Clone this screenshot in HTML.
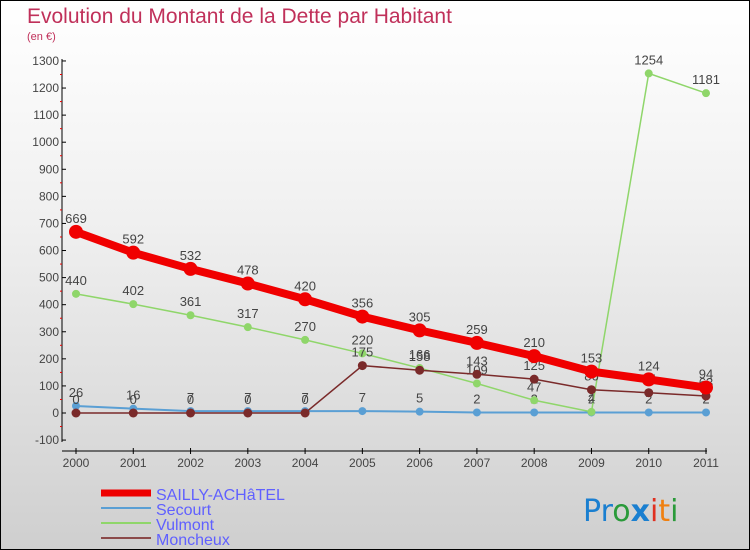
<!DOCTYPE html>
<html><head><meta charset="utf-8"><style>
body{margin:0}
#c{width:748px;height:548px;border:1px solid #000;background:linear-gradient(#fff,#f0f0f0 40%,#cfcfcf);position:relative;font-family:"Liberation Sans",sans-serif;overflow:hidden}
</style></head><body>
<div id="c">
<svg id="s" width="748" height="548">
<text x="26" y="22" font-size="21" fill="#c0305a">Evolution du Montant de la Dette par Habitant</text>
<text x="26" y="39" font-size="11" fill="#c0305a">(en €)</text>
<g id="axes"></g><g id="series"></g>
<g>
<line x1="100" y1="492" x2="150" y2="492" stroke="#e00" stroke-width="7"/>
<text x="155" y="499" font-size="16" fill="#6060ff">SAILLY-ACHâTEL</text>
<line x1="100" y1="507" x2="150" y2="507" stroke="#5a9fd4" stroke-width="2"/>
<text x="155" y="514" font-size="16" fill="#6060ff">Secourt</text>
<line x1="100" y1="522" x2="150" y2="522" stroke="#8fd66a" stroke-width="2"/>
<text x="155" y="529" font-size="16" fill="#6060ff">Vulmont</text>
<line x1="100" y1="537" x2="150" y2="537" stroke="#8b4a4a" stroke-width="2"/>
<text x="155" y="544" font-size="16" fill="#6060ff">Moncheux</text>
</g>
<text x="582" y="520" font-size="30" font-family="'DejaVu Sans',sans-serif"><tspan fill="#1a7fd0">Pr</tspan><tspan fill="#2a9a3a">o</tspan><tspan fill="#1a7fd0" font-weight="bold">x</tspan><tspan fill="#e03020">i</tspan><tspan fill="#f08010">t</tspan><tspan fill="#2a9a3a">i</tspan></text>
</svg></div>
<script>
const years=[2000,2001,2002,2003,2004,2005,2006,2007,2008,2009,2010,2011];
const yTicks=[-100,0,100,200,300,400,500,600,700,800,900,1000,1100,1200,1300];
const sailly=[669,592,532,478,420,356,305,259,210,153,124,94];
const secourt=[26,16,7,7,7,7,5,2,2,2,2,2];
const vulmont=[440,402,361,317,270,220,166,109,47,4,1254,1181];
const moncheux=[0,0,0,0,0,175,158,143,125,86,75,63];
const NS="http://www.w3.org/2000/svg";
function X(i){return 75+i*(630/11);}
function Y(v){return 412-v*0.2708;}
function mk(t,a,p){const e=document.createElementNS(NS,t);for(const k in a)e.setAttribute(k,a[k]);p.appendChild(e);return e;}
const ax=document.getElementById('axes');
const yl=mk('line',{x1:61,y1:58,x2:61,y2:441,stroke:'#000'},ax);


const xl=mk('line',{x1:61,y1:450,x2:706,y2:450,stroke:'#000'},ax);


yTicks.forEach(v=>{
 mk('line',{x1:61,y1:Y(v),x2:65,y2:Y(v),stroke:'#000'},ax);
 if(v<1300)mk('line',{x1:59,y1:Y(v+50),x2:61,y2:Y(v+50),stroke:'#e00'},ax);
 const t=mk('text',{x:58,y:Y(v)+4,'font-size':12,'text-anchor':'end',fill:'#444'},ax);
 t.textContent=v;
 
 
});
years.forEach((y,i)=>{
 mk('line',{x1:X(i),y1:447,x2:X(i),y2:453,stroke:'#000'},ax);
 const t=mk('text',{x:X(i),y:466,'font-size':12,'text-anchor':'middle',fill:'#444'},ax);
 t.textContent=y;
 
 
});
const sg=document.getElementById('series');
function draw(d,col,w,r,name){
 const g=mk('g',{},sg);
 
 
 const p=mk('polyline',{points:d.map((v,i)=>X(i)+','+Y(v)).join(' '),fill:'none',stroke:col,'stroke-width':w},g);
 
 
 d.forEach((v,i)=>{
  const c=mk('circle',{cx:X(i),cy:Y(v),r:r,fill:col},g);
  
  
  const t=mk('text',{x:X(i),y:Y(v)-9,'font-size':13,'text-anchor':'middle',fill:'#444'},g);
  t.textContent=v;
  
  
 });
}
draw(secourt,'#5a9fd4',2,4,'secourt');
draw(vulmont,'#8fd66a',1.5,4,'vulmont');
draw(moncheux,'#7a2a2a',1.5,4.5,'moncheux');
draw(sailly,'#f00000',8,7,'sailly');
</script>
</body></html>
